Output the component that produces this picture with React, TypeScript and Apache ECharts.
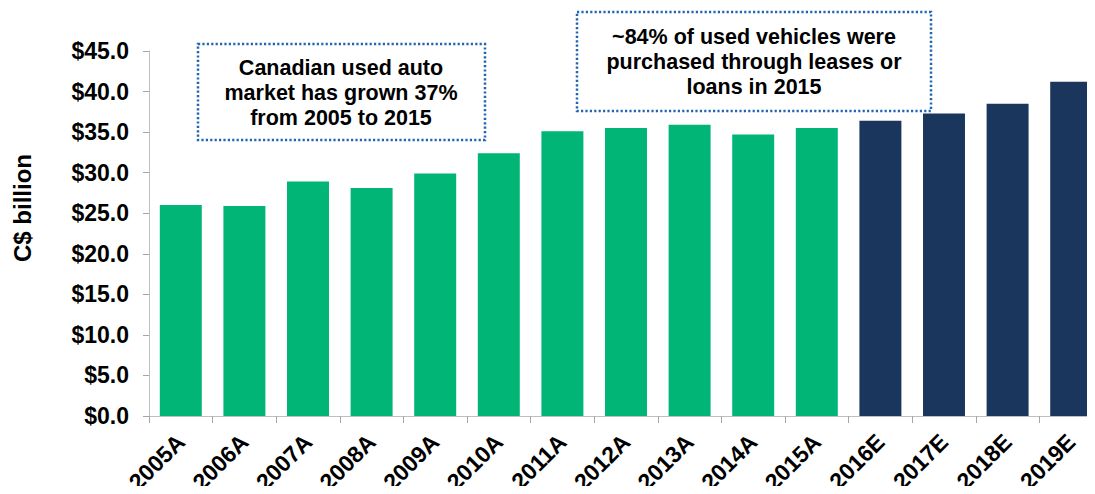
import React, { useEffect, useRef } from "react";
import * as echarts from "echarts";

const categories = ["2005A", "2006A", "2007A", "2008A", "2009A", "2010A", "2011A", "2012A", "2013A", "2014A", "2015A", "2016E", "2017E", "2018E", "2019E"];
const values = [26.0, 25.9, 28.9, 28.1, 29.9, 32.4, 35.1, 35.5, 35.9, 34.7, 35.5, 36.4, 37.3, 38.5, 41.2];
const yTicks = { min: 0, max: 45, interval: 5 };
const axisName = "C$ billion";
const note1 = "Canadian used auto\nmarket has grown 37%\nfrom 2005 to 2015";
const note2 = "~84% of used vehicles were\npurchased through leases or\nloans in 2015";

const FONT = '"Liberation Sans", Arial, Helvetica, sans-serif';
const GREEN = "#00B576";
const NAVY = "#1B365D";
const BORDER = "#2366B0";

export default function App() {
  const ref = useRef<HTMLDivElement>(null);
  useEffect(() => {
    if (!ref.current) return;
    const chart = echarts.init(ref.current, undefined, { renderer: "svg" });
    chart.setOption({
      animation: false,
      backgroundColor: "#ffffff",
      grid: { left: 149, top: 51, height: 365, width: 954, containLabel: false, outerBoundsMode: "none" },
      xAxis: {
        type: "category",
        data: categories,
        axisLine: { show: true, lineStyle: { color: "#BFBFBF", width: 1 } },
        axisTick: { show: true, length: 7, lineStyle: { color: "#A6A6A6" } },
        axisLabel: {
          interval: 0,
          rotate: 45,
          margin: 22,
          fontSize: 23,
          fontWeight: "bold",
          fontFamily: FONT,
          color: "#000000",
        },
      },
      yAxis: {
        type: "value",
        min: yTicks.min,
        max: yTicks.max,
        interval: yTicks.interval,
        splitLine: { show: false },
        axisLine: { show: true, lineStyle: { color: "#BFBFBF", width: 1 } },
        axisTick: { show: true, length: 6, lineStyle: { color: "#A6A6A6" } },
        axisLabel: {
          margin: 20,
          fontSize: 23,
          fontWeight: "bold",
          fontFamily: FONT,
          color: "#000000",
          formatter: (v: number) => "$" + v.toFixed(1),
        },
      },
      series: [
        {
          type: "bar",
          data: values,
          barCategoryGap: "34%",
          itemStyle: {
            color: (p: any) => (categories[p.dataIndex].endsWith("E") ? NAVY : GREEN),
          },
        },
      ],
      graphic: [
        {
          type: "text",
          x: 22,
          y: 208,
          rotation: Math.PI / 2,
          style: {
            text: axisName,
            font: `bold 24px ${FONT}`,
            fill: "#000000",
            textAlign: "center",
            textVerticalAlign: "middle",
          },
        },
        {
          type: "rect",
          shape: { x: 198, y: 44, width: 287, height: 96 },
          style: { fill: "#ffffff", stroke: BORDER, lineWidth: 2.5, lineDash: [2.2, 2.2] },
        },
        {
          type: "text",
          x: 341,
          y: 93,
          style: {
            text: note1,
            font: `bold 21.5px ${FONT}`,
            lineHeight: 25,
            fill: "#000000",
            textAlign: "center",
            textVerticalAlign: "middle",
          },
        },
        {
          type: "rect",
          shape: { x: 577, y: 12, width: 354, height: 99 },
          style: { fill: "#ffffff", stroke: BORDER, lineWidth: 2.5, lineDash: [2.2, 2.2] },
        },
        {
          type: "text",
          x: 754,
          y: 62,
          style: {
            text: note2,
            font: `bold 21.5px ${FONT}`,
            lineHeight: 25,
            fill: "#000000",
            textAlign: "center",
            textVerticalAlign: "middle",
          },
        },
      ],
    });
    return () => chart.dispose();
  }, []);
  return <div ref={ref} style={{ width: 1095, height: 494, margin: -8 }} />;
}
